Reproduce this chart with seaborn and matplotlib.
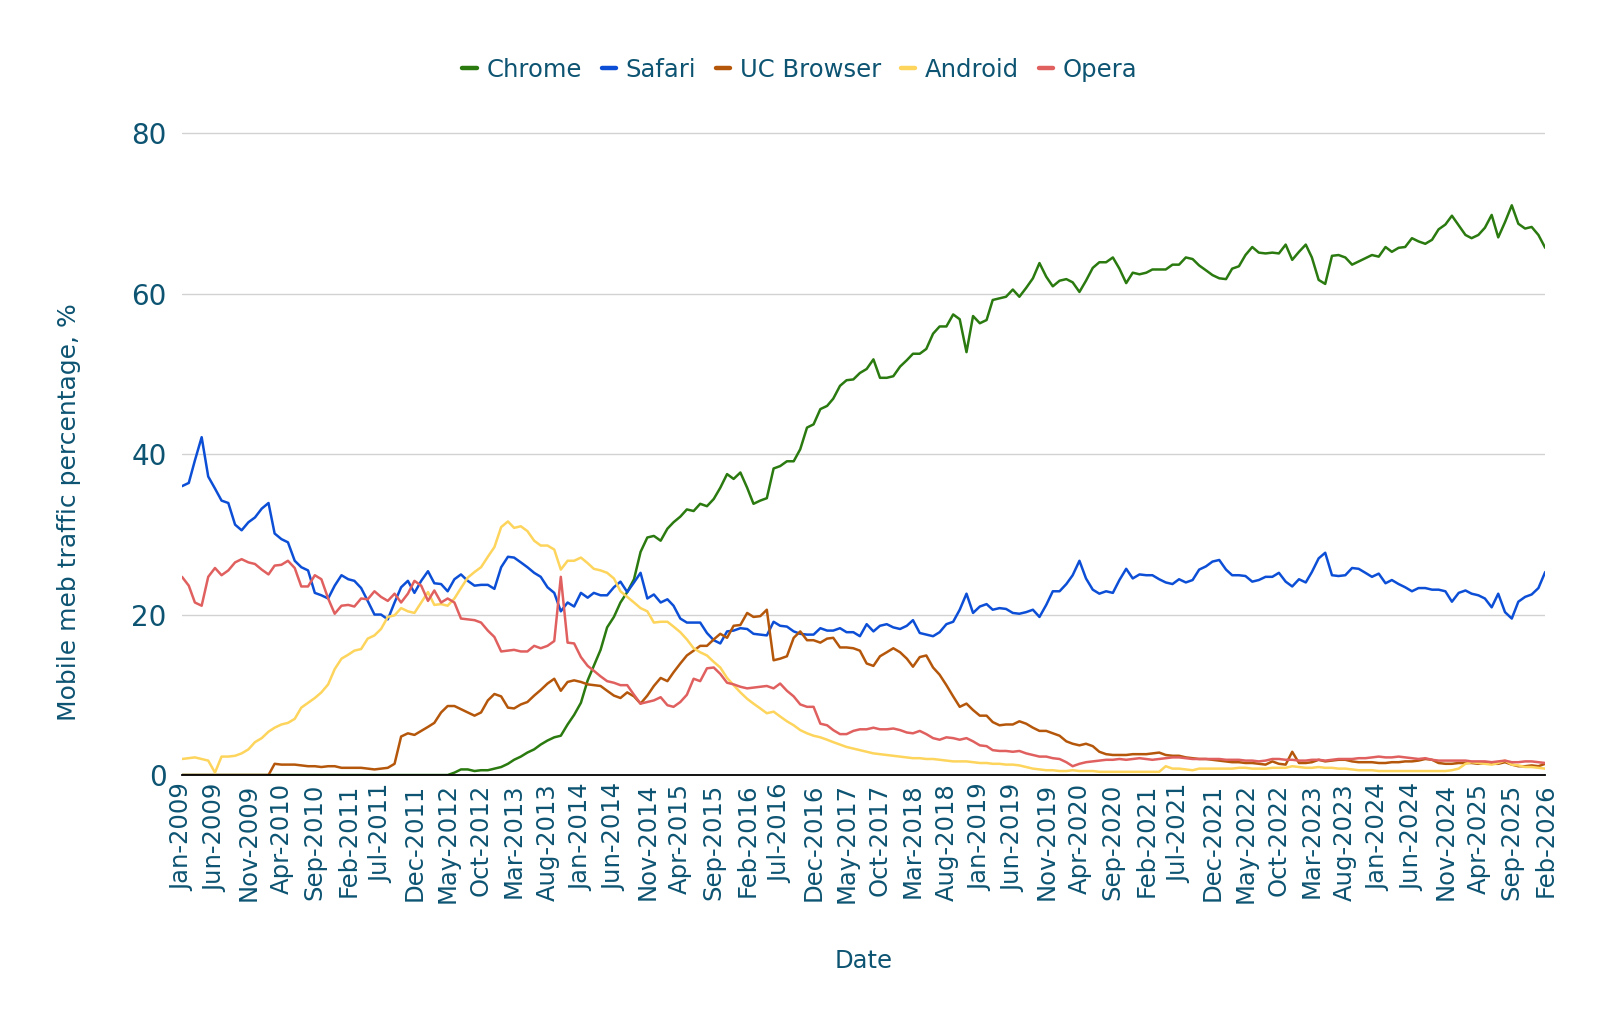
import numpy as np
import pandas as pd
import matplotlib
matplotlib.use("Agg")
import matplotlib.pyplot as plt
from matplotlib.lines import Line2D
import seaborn as sns

# ---------------- data (monthly, Jan-2009 .. Feb-2026) ----------------
dates = pd.date_range("2009-01-01", "2026-02-01", freq="MS")

chrome = [
    0, 0, 0, 0, 0, 0, 0, 0, 0, 0, 0, 0,
    0, 0, 0, 0, 0, 0, 0, 0, 0, 0, 0, 0,
    0, 0, 0, 0, 0, 0, 0, 0, 0, 0, 0, 0,
    0, 0, 0, 0, 0, 0.3, 0.7, 0.7, 0.5, 0.6, 0.6, 0.8,
    1.0, 1.4, 1.9, 2.3, 2.8, 3.2, 3.8, 4.3, 4.7, 4.9, 6.3, 7.5,
    9.0, 11.8, 13.6, 15.6, 18.4, 19.7, 21.5, 22.8, 24.4, 27.8, 29.6, 29.8,
    29.2, 30.7, 31.5, 32.2, 33.1, 32.9, 33.8, 33.5, 34.4, 35.8, 37.5, 36.9,
    37.7, 35.8, 33.8, 34.2, 34.5, 38.2, 38.5, 39.1, 39.1, 40.6, 43.3, 43.7,
    45.6, 46.0, 46.9, 48.5, 49.2, 49.3, 50.1, 50.6, 51.8, 49.5, 49.5, 49.7,
    50.9, 51.7, 52.5, 52.5, 53.1, 55.0, 55.9, 55.9, 57.4, 56.8, 52.7, 57.2,
    56.3, 56.7, 59.2, 59.4, 59.6, 60.5, 59.6, 60.7, 61.9, 63.8, 62.1, 60.9,
    61.6, 61.8, 61.4, 60.2, 61.6, 63.2, 63.9, 63.9, 64.5, 63.1, 61.3, 62.6,
    62.4, 62.6, 63.0, 63.0, 63.0, 63.6, 63.6, 64.5, 64.3, 63.5, 62.9, 62.3,
    61.9, 61.8, 63.1, 63.4, 64.8, 65.8, 65.1, 65.0, 65.1, 65.0, 66.1, 64.2,
    65.2, 66.1, 64.5, 61.7, 61.2, 64.7, 64.8, 64.5, 63.6, 64.0, 64.4, 64.8,
    64.6, 65.8, 65.2, 65.7, 65.8, 66.9, 66.5, 66.2, 66.7, 68.0, 68.6, 69.7,
    68.5, 67.3, 66.9, 67.3, 68.2, 69.8, 67.0, 68.9, 71.0, 68.7, 68.1, 68.3,
    67.3, 65.7,
]

safari = [
    36.0, 36.4, 39.2, 42.1, 37.2, 35.7, 34.2, 33.9, 31.2, 30.5, 31.5, 32.1,
    33.2, 33.9, 30.1, 29.4, 29.0, 26.7, 25.9, 25.5, 22.7, 22.4, 22.0, 23.6,
    24.9, 24.4, 24.2, 23.3, 21.7, 20.0, 20.0, 19.4, 21.5, 23.4, 24.2, 22.7,
    24.2, 25.4, 23.9, 23.8, 22.9, 24.4, 25.0, 24.2, 23.6, 23.7, 23.7, 23.2,
    25.9, 27.2, 27.1, 26.5, 25.9, 25.2, 24.7, 23.4, 22.7, 20.4, 21.5, 21.0,
    22.7, 22.1, 22.7, 22.4, 22.4, 23.4, 24.1, 22.8, 24.0, 25.2, 22.0, 22.5,
    21.5, 21.9, 21.1, 19.5, 19.0, 19.0, 19.0, 17.7, 16.8, 16.4, 17.9, 18.0,
    18.3, 18.2, 17.6, 17.5, 17.4, 19.1, 18.6, 18.5, 17.9, 17.6, 17.5, 17.5,
    18.3, 18.0, 18.0, 18.3, 17.8, 17.8, 17.3, 18.8, 17.9, 18.6, 18.8, 18.4,
    18.2, 18.6, 19.3, 17.7, 17.5, 17.3, 17.8, 18.8, 19.1, 20.6, 22.6, 20.2,
    21.0, 21.3, 20.6, 20.8, 20.7, 20.2, 20.1, 20.3, 20.6, 19.7, 21.2, 22.9,
    22.9, 23.8, 24.9, 26.7, 24.5, 23.1, 22.6, 22.9, 22.7, 24.3, 25.7, 24.5,
    25.0, 24.9, 24.9, 24.4, 24.0, 23.8, 24.4, 24.0, 24.3, 25.6, 26.0, 26.6,
    26.8, 25.6, 24.9, 24.9, 24.8, 24.1, 24.3, 24.7, 24.7, 25.2, 24.1, 23.5,
    24.4, 24.0, 25.3, 27.0, 27.7, 24.9, 24.8, 24.9, 25.8, 25.7, 25.2, 24.7,
    25.1, 23.9, 24.3, 23.8, 23.4, 22.9, 23.3, 23.3, 23.1, 23.1, 22.9, 21.6,
    22.7, 23.0, 22.6, 22.4, 22.0, 20.9, 22.6, 20.3, 19.5, 21.6, 22.2, 22.5,
    23.3, 25.3,
]

uc_browser = [
    0, 0, 0, 0, 0, 0, 0, 0, 0, 0, 0, 0,
    0, 0, 1.4, 1.3, 1.3, 1.3, 1.2, 1.1, 1.1, 1.0, 1.1, 1.1,
    0.9, 0.9, 0.9, 0.9, 0.8, 0.7, 0.8, 0.9, 1.4, 4.8, 5.2, 5.0,
    5.5, 6.0, 6.5, 7.8, 8.6, 8.6, 8.2, 7.8, 7.4, 7.8, 9.3, 10.1,
    9.8, 8.4, 8.3, 8.8, 9.1, 9.9, 10.6, 11.4, 12.0, 10.5, 11.6, 11.8,
    11.6, 11.3, 11.2, 11.1, 10.5, 9.9, 9.6, 10.3, 9.8, 8.9, 9.9, 11.1,
    12.1, 11.7, 12.8, 13.9, 14.9, 15.5, 16.1, 16.1, 16.9, 17.6, 17.1, 18.6,
    18.7, 20.2, 19.7, 19.8, 20.6, 14.3, 14.5, 14.8, 17.1, 17.9, 16.8, 16.8,
    16.5, 17.0, 17.1, 15.9, 15.9, 15.8, 15.5, 13.9, 13.6, 14.8, 15.3, 15.8,
    15.3, 14.5, 13.5, 14.7, 14.9, 13.4, 12.5, 11.2, 9.8, 8.5, 8.9, 8.1,
    7.4, 7.4, 6.6, 6.2, 6.3, 6.3, 6.7, 6.4, 5.9, 5.5, 5.5, 5.2,
    4.9, 4.2, 3.9, 3.7, 3.9, 3.6, 2.9, 2.6, 2.5, 2.5, 2.5, 2.6,
    2.6, 2.6, 2.7, 2.8, 2.5, 2.4, 2.4, 2.2, 2.1, 2.0, 2.0, 1.9,
    1.8, 1.7, 1.6, 1.6, 1.5, 1.5, 1.4, 1.3, 1.7, 1.4, 1.3, 2.9,
    1.5, 1.5, 1.6, 1.9, 1.7, 1.8, 1.9, 1.9, 1.7, 1.6, 1.6, 1.6,
    1.5, 1.5, 1.6, 1.6, 1.7, 1.7, 1.8, 2.0, 1.9, 1.5, 1.4, 1.4,
    1.5, 1.5, 1.5, 1.4, 1.5, 1.4, 1.4, 1.6, 1.3, 1.1, 1.1, 1.2,
    1.1, 1.4,
]

android = [
    2.0, 2.1, 2.2, 2.0, 1.8, 0.3, 2.3, 2.3, 2.4, 2.7, 3.2, 4.1,
    4.6, 5.4, 5.9, 6.3, 6.5, 7.0, 8.4, 9.0, 9.6, 10.3, 11.3, 13.2,
    14.5, 15.0, 15.5, 15.7, 17.0, 17.4, 18.2, 19.7, 19.9, 20.8, 20.4, 20.2,
    21.5, 22.8, 21.2, 21.3, 21.1, 22.0, 23.3, 24.6, 25.3, 25.9, 27.2, 28.4,
    30.9, 31.6, 30.8, 31.0, 30.4, 29.2, 28.6, 28.6, 28.1, 25.6, 26.7, 26.7,
    27.1, 26.4, 25.7, 25.5, 25.2, 24.5, 22.9, 22.2, 21.5, 20.8, 20.4, 19.0,
    19.1, 19.1, 18.5, 17.8, 16.9, 15.8, 15.3, 14.9, 14.1, 13.4, 12.1, 11.2,
    10.3, 9.5, 8.9, 8.3, 7.7, 7.9, 7.3, 6.7, 6.2, 5.6, 5.2, 4.9,
    4.7, 4.4, 4.1, 3.8, 3.5, 3.3, 3.1, 2.9, 2.7, 2.6, 2.5, 2.4,
    2.3, 2.2, 2.1, 2.1, 2.0, 2.0, 1.9, 1.8, 1.7, 1.7, 1.7, 1.6,
    1.5, 1.5, 1.4, 1.4, 1.3, 1.3, 1.2, 1.0, 0.8, 0.7, 0.6, 0.6,
    0.5, 0.5, 0.6, 0.5, 0.5, 0.5, 0.4, 0.4, 0.4, 0.4, 0.4, 0.4,
    0.4, 0.4, 0.4, 0.4, 1.1, 0.8, 0.8, 0.7, 0.6, 0.8, 0.8, 0.8,
    0.8, 0.8, 0.8, 0.9, 0.9, 0.8, 0.8, 0.8, 0.9, 0.9, 0.9, 1.1,
    1.0, 0.9, 0.9, 1.0, 0.9, 0.9, 0.8, 0.8, 0.7, 0.6, 0.6, 0.6,
    0.5, 0.5, 0.5, 0.5, 0.5, 0.5, 0.5, 0.5, 0.5, 0.5, 0.5, 0.6,
    0.8, 1.4, 1.6, 1.5, 1.4, 1.3, 1.5, 1.8, 1.3, 1.2, 1.0, 1.0,
    0.9, 0.8,
]

opera = [
    24.7, 23.6, 21.5, 21.1, 24.7, 25.8, 24.9, 25.5, 26.5, 26.9, 26.5, 26.3,
    25.6, 25.0, 26.1, 26.2, 26.7, 25.8, 23.5, 23.5, 24.9, 24.4, 22.0, 20.1,
    21.1, 21.2, 21.0, 22.0, 21.9, 22.9, 22.2, 21.7, 22.6, 21.5, 22.6, 24.2,
    23.6, 21.7, 23.0, 21.5, 22.0, 21.5, 19.5, 19.4, 19.3, 19.0, 18.0, 17.2,
    15.4, 15.5, 15.6, 15.4, 15.4, 16.1, 15.8, 16.1, 16.7, 24.7, 16.5, 16.4,
    14.7, 13.6, 13.0, 12.3, 11.7, 11.5, 11.2, 11.2, 10.0, 8.9, 9.1, 9.3,
    9.7, 8.7, 8.5, 9.1, 10.0, 12.0, 11.7, 13.3, 13.4, 12.6, 11.5, 11.3,
    11.0, 10.8, 10.9, 11.0, 11.1, 10.8, 11.4, 10.5, 9.8, 8.8, 8.5, 8.5,
    6.4, 6.2, 5.6, 5.1, 5.1, 5.5, 5.7, 5.7, 5.9, 5.7, 5.7, 5.8,
    5.6, 5.3, 5.2, 5.5, 5.1, 4.6, 4.4, 4.7, 4.6, 4.4, 4.6, 4.2,
    3.7, 3.6, 3.1, 3.0, 3.0, 2.9, 3.0, 2.7, 2.5, 2.3, 2.3, 2.1,
    2.0, 1.6, 1.1, 1.4, 1.6, 1.7, 1.8, 1.9, 1.9, 2.0, 1.9, 2.0,
    2.1, 2.0, 1.9, 2.0, 2.1, 2.2, 2.2, 2.1, 2.0, 2.0, 2.0, 2.0,
    2.0, 1.9, 1.9, 1.9, 1.8, 1.8, 1.7, 1.8, 2.0, 2.0, 1.9, 1.9,
    1.8, 1.8, 1.9, 1.9, 1.8, 1.9, 2.0, 2.0, 2.0, 2.1, 2.1, 2.2,
    2.3, 2.2, 2.2, 2.3, 2.2, 2.1, 2.0, 2.1, 1.9, 1.8, 1.8, 1.8,
    1.8, 1.8, 1.7, 1.7, 1.7, 1.6, 1.7, 1.8, 1.6, 1.6, 1.7, 1.7,
    1.6, 1.5,
]

browsers = ["Chrome", "Safari", "UC Browser", "Android", "Opera"]
colors = ["#2a7a10", "#0c4fd6", "#b5570b", "#fdd45c", "#e0605f"]

# ---------------- build frame ----------------
series = [chrome, safari, uc_browser, android, opera]
for s in series:
    assert len(s) == len(dates), len(s)
wide = pd.DataFrame({"Date": dates})
for name, vals in zip(browsers, series):
    wide[name] = vals
long = wide.melt(id_vars="Date", var_name="Browser", value_name="Share")

# ---------------- plot ----------------
sns.set_theme(style="white")
plt.rcParams["font.family"] = ["DejaVu Sans"]
teal = "#0d5472"

fig = plt.figure(figsize=(16, 10.26), dpi=100)
ax = fig.add_axes([0.11375, 0.2446, 0.852, 0.657])

sns.lineplot(data=long, x="Date", y="Share", hue="Browser",
             hue_order=browsers, palette=colors, linewidth=1.8,
             legend=False, ax=ax)

ax.set_xlim(dates[0], dates[-1])
ax.set_ylim(0, 84)
ax.set_yticks([0, 20, 40, 60, 80])
ax.yaxis.grid(True, color="#d2d2d2", linewidth=1.0)
ax.xaxis.grid(False)
ax.set_axisbelow(True)
for side in ["top", "right", "left"]:
    ax.spines[side].set_visible(False)
ax.spines["bottom"].set_color("black")
ax.spines["bottom"].set_linewidth(1.3)

tick_dates = dates[::5]
ax.set_xticks(tick_dates)
ax.set_xticklabels([d.strftime("%b-%Y") for d in tick_dates],
                   rotation=90, ha="center", va="top")
ax.tick_params(axis="x", length=0, pad=6, labelsize=17.5, labelcolor=teal)
ax.tick_params(axis="y", length=0, pad=11, labelsize=20, labelcolor=teal)

ax.set_xlabel("Date", fontsize=17.5, color=teal, labelpad=33)
ax.set_ylabel("Mobile meb traffic percentage, %", fontsize=18, color=teal)
ax.yaxis.set_label_coords(-0.074, 0.39)

handles = [Line2D([0], [0], color=c, lw=3.2) for c in colors]
fig.legend(handles, browsers, loc="center", bbox_to_anchor=(0.5, 0.932),
           ncol=5, frameon=False, fontsize=17.5, handlelength=0.6,
           handletextpad=0.4, columnspacing=0.8, labelcolor=teal)

fig.savefig("out.png", dpi=100)
